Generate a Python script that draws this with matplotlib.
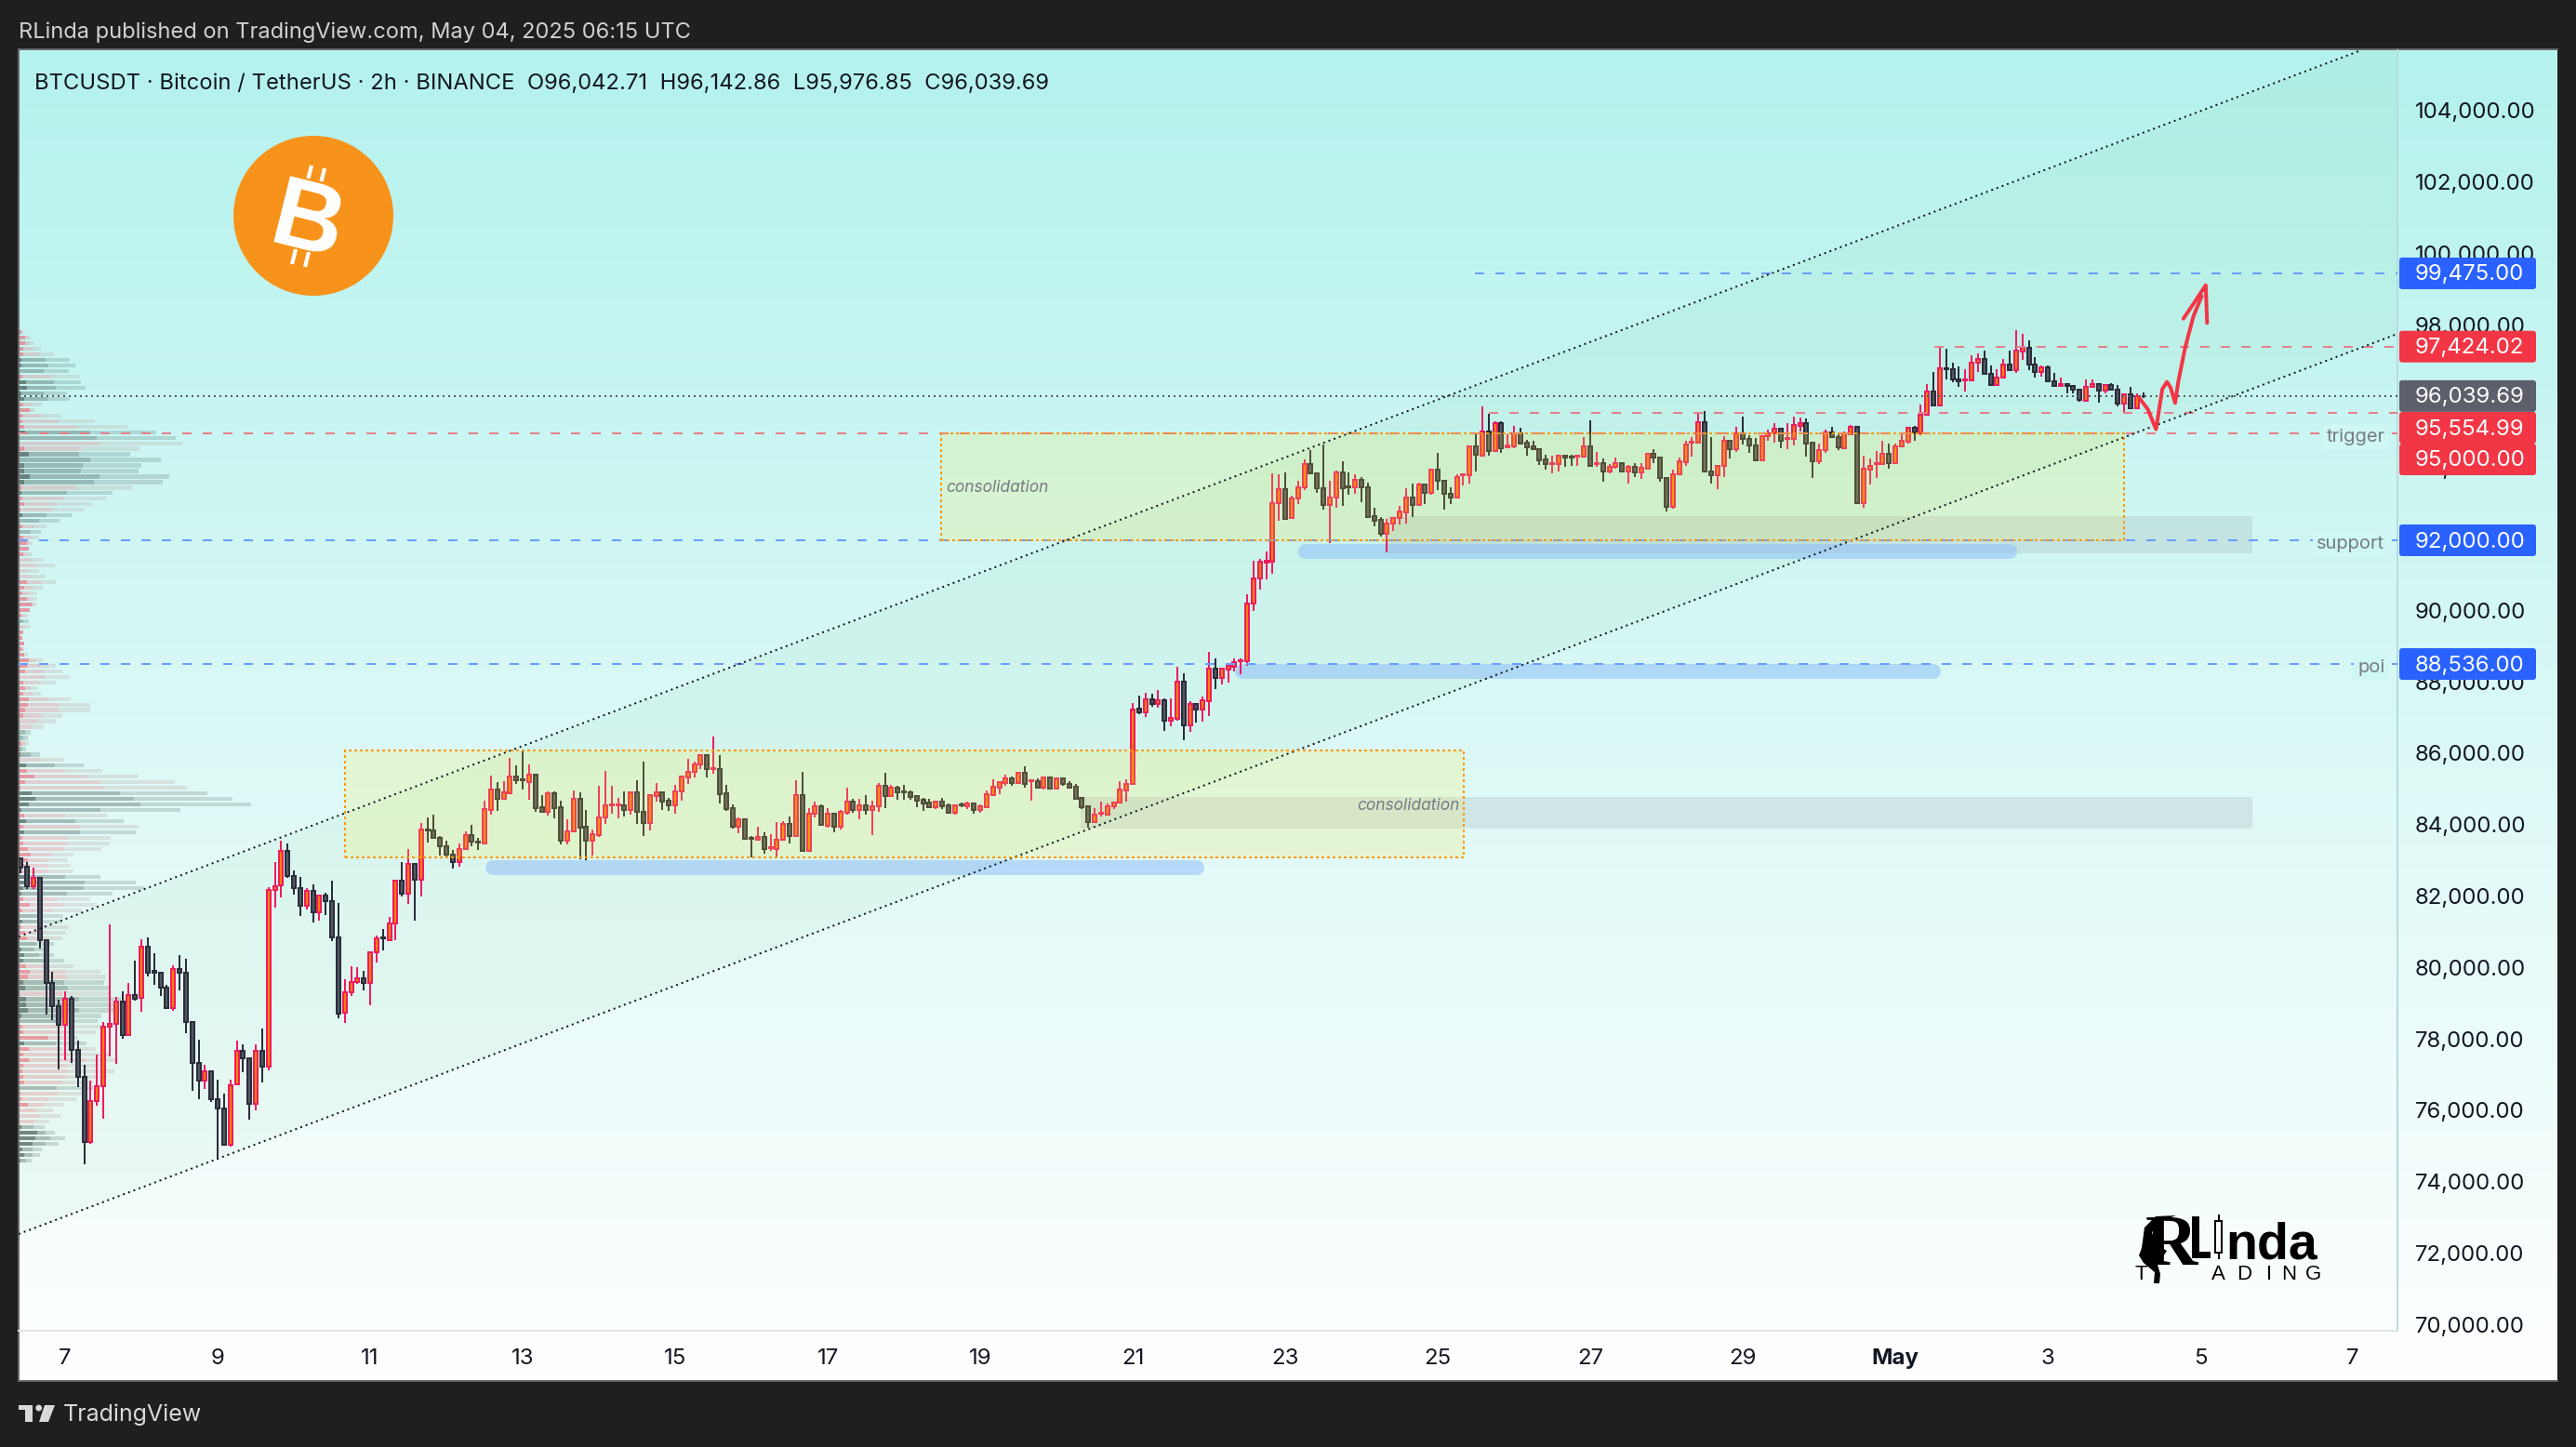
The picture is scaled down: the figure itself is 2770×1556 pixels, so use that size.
import numpy as np
import matplotlib
matplotlib.use('Agg')
import matplotlib.pyplot as plt
from matplotlib.patches import Rectangle, FancyBboxPatch, Circle, Polygon
from matplotlib.transforms import ScaledTranslation

plt.rcParams['font.family'] = ['Inter', 'DejaVu Sans']

PX = 0.72  # one pixel in points at dpi 100

# 2h candles of BTCUSDT
opens = [
    83085,82851,82304,82539,80811,79613,78962,78442,79153,77721,
    76966,75143,76289,76706,78372,78468,79075,78138,79266,79180,
    80612,79935,79883,79483,78902,79987,79900,78502,77357,76862,
    77122,76341,76081,75083,76766,77695,77487,76228,77695,77270,
    82200,82339,83294,82608,82252,81775,82174,81592,82044,81888,
    80872,78763,79336,79640,79726,79613,80455,80872,80811,81263,
    82460,82113,82929,82504,83910,83867,83676,83424,83207,82981,
    83346,83736,83571,83519,84457,85012,84752,84925,85377,85299,
    85238,85429,84517,84405,84908,84517,83597,83840,84752,83971,
    83597,83745,84231,84569,84569,84569,84439,84934,84387,84092,
    84847,84935,84700,84587,84978,85369,85525,85716,85976,85586,
    85586,84909,84492,83989,84179,83659,83615,83685,83372,83363,
    83607,84049,83728,84857,83294,84336,84544,84006,84336,83980,
    84370,84674,84449,84570,84449,84544,85117,84839,85065,84961,
    84935,84831,84726,84648,84535,84674,84570,84362,84596,84553,
    84631,84449,84527,84874,85082,85212,85325,85212,85490,85256,
    85256,85074,85351,85056,85325,85178,85091,84778,84544,84110,
    84336,84318,84561,84648,85004,85169,87279,87183,87539,87417,
    87513,86949,87010,88034,86819,87409,87270,87504,88398,88155,
    88390,88468,88607,88607,90221,90924,91384,91393,93034,93424,
    92617,93164,93476,94127,93867,93450,92999,93190,93893,93502,
    93476,93685,93476,92669,92565,92192,92461,92617,92791,93190,
    92999,93554,93329,93971,93659,93294,93190,93815,93815,94622,
    94379,95039,94501,95273,94605,94622,95004,94726,94631,94544,
    94258,94136,94127,94370,94344,94344,94336,94622,94145,94153,
    93919,94049,94153,93919,94049,93893,94006,94414,94310,93737,
    92930,93841,94197,94726,94726,95299,93936,93815,94075,94778,
    94544,94987,94830,94648,94249,94909,94995,95117,94830,94830,
    95204,95273,94726,94223,94518,95013,94883,94579,94961,95169,
    93034,93988,94127,94127,94414,94153,94622,94770,95143,95004,
    95507,96158,95785,96826,96783,96496,96479,96479,96965,97087,
    96670,96340,96566,96913,96757,97295,97382,96913,96705,96852,
    96453,96314,96384,96323,96227,95915,96305,96384,96184,96340,
    96227,95837,96080,95707,96042.71]
highs = [
    83129,82981,82825,82565,80829,79917,79136,79370,79240,77982,
    77313,76871,77600,78502,81245,79206,79370,79596,80221,80829,
    80872,80438,79891,79544,80099,80377,80282,78528,78008,77313,
    77148,76888,76506,76905,77982,77877,77487,77877,78329,82287,
    82981,83580,83502,82756,82565,82252,82365,82079,82131,82460,
    81844,79700,80065,80048,79943,80455,80933,81115,81454,82460,
    82981,83346,82929,84075,84231,84318,83710,83580,83320,83502,
    83840,84040,83667,84708,85411,85229,85255,85906,85698,86115,
    85724,85429,84865,84969,84969,84708,84188,84995,84943,84448,
    83901,85125,85542,85125,84786,84969,84969,85281,85802,84891,
    85203,84969,84778,85152,85412,85881,85794,85994,86011,86506,
    85985,85152,84596,84240,84179,83719,83971,83824,83771,84110,
    84136,84266,85282,85516,84501,84683,84605,84501,84336,84449,
    85065,84761,84761,84865,84709,85204,85490,85152,85117,85152,
    84995,84839,84787,84761,84683,84787,84631,84605,84657,84683,
    84657,84605,84995,85299,85256,85438,85377,85516,85672,85308,
    85325,85377,85360,85343,85334,85256,85178,84778,84544,84501,
    84683,84631,84683,85256,85308,87444,87652,87730,87704,87808,
    87574,87574,88459,88277,87496,87444,87626,88876,88693,88424,
    88485,88693,88693,90490,91428,91480,91688,93875,93841,93902,
    93242,93659,94266,94527,93893,94683,93659,93945,94206,93902,
    93841,93771,93607,92912,92652,92591,92652,92956,93450,93580,
    93607,93580,93997,94440,93659,93476,93841,93867,94657,94995,
    95742,95534,95325,95334,94961,95195,95143,94804,94787,94544,
    94405,94370,94396,94370,94388,94370,94891,95360,94475,94284,
    94136,94318,94197,94110,94153,94153,94431,94544,94318,93763,
    93971,94318,94787,94891,95542,95620,94891,94110,94909,94804,
    95169,95455,94935,94857,94935,95100,95273,95152,95273,95464,
    95429,95403,94726,94700,95100,95178,94995,95039,95221,95195,
    94370,94292,94501,94787,94700,94718,95021,95169,95204,95802,
    96366,96713,97425,97364,96974,96861,96800,97182,97234,97304,
    96887,96791,97078,97304,97877,97781,97599,97130,96887,96887,
    96687,96566,96384,96349,96245,96505,96505,96401,96366,96410,
    96349,96123,96305,96106,96142.86]
lows = [
    82669,82235,82235,80568,78728,78572,77183,77443,77374,76680,
    74536,75100,76167,75812,77548,77339,78051,78120,79110,78806,
    79787,79544,79240,78876,78832,79396,78207,76593,76350,76645,
    76272,74649,75057,75031,76749,77114,75777,76037,76827,77166,
    81714,82000,82547,82079,81480,81662,81297,81349,81506,80785,
    78615,78485,79249,79579,79396,78988,80178,80525,80811,80811,
    82026,81827,81349,82026,83537,83650,83172,83155,82808,82860,
    83346,83433,83328,83484,84318,84422,84734,84891,85177,85021,
    84734,84405,84405,84292,84214,83484,83484,83823,83068,83042,
    83172,83693,84057,84344,84214,84266,84318,84057,83719,83875,
    84682,84449,84431,84344,84718,85186,85360,85603,85369,85473,
    84640,84423,83936,83806,83624,83120,83589,83225,83294,83147,
    83589,83511,83728,83277,83285,84240,84006,83954,83824,83902,
    84318,84370,84188,84318,83746,84396,84501,84839,84735,84735,
    84735,84527,84423,84518,84475,84475,84344,84318,84527,84475,
    84344,84370,84501,84865,84891,85126,85126,85204,85082,84709,
    85039,85021,85047,85047,85126,85065,84735,84475,83954,84101,
    84266,84301,84475,84631,84683,85150,87131,87053,87339,87313,
    86662,86793,86949,86402,86636,86897,86923,87079,87834,87964,
    88016,88329,88251,88485,90022,90620,90907,91063,92548,92582,
    92600,93016,93407,93850,93329,92860,91923,92912,92964,93268,
    93303,93068,92652,92391,92105,91662,92252,92443,92461,92652,
    92999,93008,93268,93398,92860,93016,93173,93537,93581,93928,
    94379,94370,94501,94440,94587,94587,94683,94370,94527,94110,
    93980,93876,93936,94049,94084,94084,94327,94049,94058,93641,
    93876,94006,93902,93589,93771,93719,93980,94153,93641,92808,
    92886,93824,94084,94336,94700,93928,93589,93433,93771,94292,
    94475,94674,94457,94206,94232,94787,94735,94579,94544,94666,
    95056,94344,93754,94145,94457,94857,94518,94570,94935,93016,
    92912,93563,93745,94110,94006,94145,94605,94718,94787,94934,
    95507,95759,95776,96496,96436,96305,96167,96470,96714,96644,
    96323,96331,96557,96739,96696,97061,96757,96566,96583,96436,
    96297,96305,96123,96123,95880,95898,96297,95863,96106,96210,
    95759,95559,95672,95698,95976.85]
closes = [
    82842,82304,82539,80811,79613,78962,78442,79153,77721,76966,
    75143,76289,76706,78372,78468,79075,78138,79266,79162,80612,
    79900,79900,79483,78902,79987,79900,78502,77357,76862,77122,
    76341,76081,75083,76749,77695,77487,76228,77695,77270,82200,
    82322,83294,82608,82252,81775,82174,81592,82044,81888,80872,
    78745,79336,79640,79726,79613,80455,80846,80846,81263,82460,
    82113,82929,82504,83910,83867,83676,83424,83207,82981,83346,
    83736,83554,83545,84474,85012,84752,84934,85377,85273,85273,
    85429,84509,84405,84908,84509,83597,83840,84752,83962,83597,
    83762,84231,84569,84596,84596,84439,84934,84387,84092,84856,
    84934,84692,84587,84978,85377,85525,85716,85976,85586,85612,
    84900,84475,83989,84179,83633,83633,83685,83363,83398,83607,
    84049,83728,84857,83294,84336,84544,84023,84336,83980,84388,
    84674,84449,84570,84449,84553,85117,84839,85065,84935,84935,
    84813,84709,84631,84535,84674,84553,84370,84570,84579,84631,
    84449,84553,84883,85091,85230,85325,85212,85490,85186,85282,
    85082,85360,85056,85325,85169,85082,84761,84518,84110,84310,
    84362,84561,84657,85013,85169,87270,87183,87539,87417,87513,
    86949,87018,88034,86819,87409,87270,87513,88398,88155,88398,
    88476,88581,88641,90221,90924,91393,91419,93033,93424,92600,
    93164,93476,94127,93867,93450,92999,93190,93893,93468,93476,
    93685,93476,92660,92548,92183,92461,92617,92799,93190,92999,
    93554,93329,93971,93659,93294,93190,93763,93841,94622,94388,
    95039,94501,95273,94587,94648,95004,94709,94613,94544,94249,
    94127,94162,94370,94318,94318,94370,94622,94093,94171,93919,
    94049,94153,93919,94049,93893,94023,94414,94310,93737,92930,
    93841,94206,94674,94761,95299,93936,93815,94075,94778,94544,
    94987,94830,94648,94249,94909,94995,95117,94787,94857,95221,
    95273,94718,94223,94518,95013,94883,94596,94987,95169,93034,
    93997,94075,94153,94414,94153,94622,94778,95143,95013,95507,
    96158,95785,96826,96783,96496,96444,96505,96965,97087,96670,
    96340,96566,96913,96757,97304,97382,96913,96705,96852,96453,
    96314,96384,96323,96227,95924,96305,96384,96184,96340,96227,
    95837,96080,95698,96028,96039.69]

# volume profile rows, top row first: p = pink row, g = grey row
vp_kind = ("pppppgggpg" "gggpppppgg" "ppggggggpg" "pppggpgppp" "pppppppppp"
           "ppgppppppp" "pppppppppp" "ppggpggpgp" "pppggggpg"
           "pgpppppppg" "gggpppggpp" "pggggpppgg" "pgggggpppg" "pppppppgpp" "ppppggggggg")
vp_strong = [
    9,21,21,15,15,9,9,2,12,24,27,9,18,15,36,12,12,18,21,2,2,18,33,2,18,18,36,18,9,9,
    12,18,6,12,2,12,2,15,27,33,15,2,2,2,2,27,18,12,27,42,36,9,2,2,15,12,18,12,18,33,
    27,21,2,15,21,15,33,30,21,15,2,2,2,2,9,2,6,2,24,27,51,21,6,42,54,33,9,18,24,
    15,18,12,15,30,39,30,18,12,18,18,15,9,15,36,12,2,12,9,21,27,2,9,18,15,24,36,30,15,21,
    2,24,24,30,9,2,11,15,96,18,33,15,33,15,12,15,18,2,5,8,30,2,2,2,9,60,54,45,12,18,6]
vp_mid = [
    9,30,36,45,66,87,96,81,105,114,120,81,93,45,45,75,129,186,231,252,264,204,195,231,207,201,261,243,189,156,
    147,126,108,90,66,51,39,42,36,33,30,42,60,33,45,75,48,36,42,51,36,21,15,21,15,12,18,12,18,54,
    72,81,84,69,39,45,99,132,126,78,63,42,21,15,21,12,39,72,117,150,219,264,276,327,372,393,264,150,183,
    201,198,156,156,147,108,93,93,93,150,213,210,156,123,144,108,75,75,80,87,87,57,51,66,81,90,150,156,147,160,
    140,195,181,195,150,120,140,170,150,120,141,165,216,153,159,153,141,123,126,99,87,57,66,51,48,87,102,87,45,45,24]
vp_total = [
    15,39,51,72,114,165,183,162,198,201,216,156,165,75,54,138,246,351,444,507,528,390,360,459,396,387,486,465,369,303,
    282,237,210,171,132,90,72,66,45,33,45,78,117,66,87,120,78,57,60,57,36,30,33,39,15,12,18,18,30,78,
    120,141,165,120,60,72,168,231,231,141,120,81,39,30,33,24,69,147,210,270,387,504,543,609,690,750,522,285,339,
    387,378,297,294,267,177,156,168,177,264,378,405,303,231,252,204,144,141,162,153,141,114,87,114,147,177,264,282,276,291,
    291,330,340,328,267,255,268,249,192,219,249,290,312,260,309,260,240,240,220,189,144,111,135,99,84,117,150,129,75,69,42]
vp_top_price = 97833
vp_bin = 155.7
assert len(vp_kind) == len(vp_strong) == len(vp_mid) == len(vp_total) == 150

# price levels and their axis tags
blue_levels = [99475, 92000, 88536]
red_levels = [97424.02, 95554.99, 95000]
last_price = 96039.69
level_start_day = {99475: 25.49, 97424.02: 31.51, 95554.99: 25.67}

tag_text = ['99,475.00', '97,424.02', '96,039.69', '95,554.99', '95,000.00', '92,000.00', '88,536.00']
tag_price = [99475, 97424.02, 96039.69, 95151, 94266, 92000, 88536]
tag_color = ['#2962ff', '#f23645', '#5d606b', '#f23645', '#f23645', '#2962ff', '#2962ff']

level_names = ['trigger', 'support', 'poi']
level_name_price = [95000, 92000, 88536]

# channel lines (day, price)
upper_channel = ([6.39, 37.11], [80900, 105724])
lower_channel = ([6.39, 37.585], [72573, 97781])

# zones: day from, day to, price low, price high
yellow_zones = [(10.67, 25.34, 83128, 86122), (18.49, 34.0, 92000, 95000)]
gray_zones = [(20.32, 35.68, 83935, 84812), (24.33, 35.68, 91635, 92677)]
blue_bars = [(12.61, 21.84, 82834), (23.27, 32.5, 91688), (22.44, 31.5, 88332)]

# hand drawn forecast arrow
arrow_day = [34.203, 34.311, 34.419, 34.460, 34.502, 34.562, 34.610, 34.670, 34.712, 34.802, 34.910, 35.018]
arrow_price = [95976, 95672, 95108, 95672, 96236, 96436, 96279, 95845, 96453, 97408, 98276, 98840]
head_day = [34.778, 34.910, 35.071, 35.089]
head_price = [98206, 98623, 99144, 98085]

y_ticks = list(range(70000, 106000, 2000))
x_ticks = [7, 9, 11, 13, 15, 17, 19, 21, 23, 25, 27, 29, 31, 33, 35, 37]
x_labels = ['7', '9', '11', '13', '15', '17', '19', '21', '23', '25', '27', '29', 'May', '3', '5', '7']

fig = plt.figure(figsize=(27.7, 15.56), dpi=100, facecolor='#1f1f1f')


def box(x0, y0, x1, y1):
    return [x0 / 2770, 1 - y1 / 1556, (x1 - x0) / 2770, (y1 - y0) / 1556]


# panel background
bg = fig.add_axes(box(20, 54, 2750, 1485), zorder=0)
grad = np.linspace(0, 1, 256)[:, None, None] * np.array([75, 13, 18]) / 255 + np.array([180, 242, 237]) / 255
grad = np.clip(grad, 0, 1)
bg.imshow(grad, aspect='auto', extent=(0, 1, 0, 1), origin='upper')
bg.axis('off')
fig.add_artist(plt.Line2D([20 / 2770, 20 / 2770], [1 - 54 / 1556, 1 - 1485 / 1556], color='#666666', lw=1.4))
fig.add_artist(plt.Line2D([20 / 2770, 2750 / 2770], [1 - 53 / 1556, 1 - 53 / 1556], color='#666666', lw=1.4))
fig.add_artist(plt.Line2D([20 / 2770, 2750 / 2770], [1 - 1485 / 1556, 1 - 1485 / 1556], color='#666666', lw=1.4))

ax = fig.add_axes(box(20, 54, 2578, 1431), zorder=2)
ax.patch.set_visible(False)
ax.set_xlim(6.39, 37.585)
ax.set_ylim(69865, 105724)

# volume profile on its own scale
vp = fig.add_axes(box(20, 54, 2578, 1431), zorder=1)
vp.patch.set_visible(False)
vp.set_xlim(0, 7674)
vp.set_ylim(69865, 105724)
vp.axis('off')
vp_y = vp_top_price - vp_bin * np.arange(len(vp_total))
vp_h = vp_bin * 0.7
for k, y, a, b, c in zip(vp_kind, vp_y, vp_strong, vp_mid, vp_total):
    if k == 'g':
        cols = [((0.22, 0.29, 0.28), 0.66), ((0.22, 0.29, 0.28), 0.35), ((0.22, 0.29, 0.28), 0.18)]
    else:
        cols = [((0.95, 0.24, 0.32), 0.5), ((0.92, 0.45, 0.50), 0.3), ((0.75, 0.62, 0.62), 0.25)]
    vp.barh(y, a, height=vp_h, color=cols[0][0], alpha=cols[0][1], linewidth=0)
    vp.barh(y, b - a, left=a, height=vp_h, color=cols[1][0], alpha=cols[1][1], linewidth=0)
    vp.barh(y, c - b, left=b, height=vp_h, color=cols[2][0], alpha=cols[2][1], linewidth=0)

# candles
x = 34.25 - (len(opens) - 1 - np.arange(len(opens))) / 12
o, h, l, c = map(np.array, (opens, highs, lows, closes))
up = c >= o
wick_col = np.where(up, '#ec1c60', '#2a2e39')
ax.vlines(x, l, h, colors=list(wick_col), lw=2 * PX, zorder=3)
body_w = 4 / 82
ax.bar(x[up], (c - o)[up], bottom=o[up], width=body_w, color='#ff8000', edgecolor='#ec1c60',
       linewidth=2 * PX, zorder=4)
ax.bar(x[~up], (o - c)[~up], bottom=c[~up], width=body_w, color='#555966', edgecolor='#2a2e39',
       linewidth=2 * PX, zorder=4)

# channel
ax.fill_between(upper_channel[0], np.interp(upper_channel[0], *lower_channel), upper_channel[1],
                color='#4caf50', alpha=0.05, linewidth=0, zorder=1)
ax.fill_between([37.11, 37.585], np.interp([37.11, 37.585], *lower_channel), [105724, 105724],
                color='#4caf50', alpha=0.05, linewidth=0, zorder=1)
for line in (upper_channel, lower_channel):
    ax.plot(line[0], line[1], color='#131722', lw=2 * PX, ls=(0, (1, 2)), zorder=6)

# zones
for d0, d1, p0, p1 in gray_zones:
    ax.add_patch(Rectangle((d0, p0), d1 - d0, p1 - p0, facecolor='#787b86', alpha=0.15, linewidth=0, zorder=2))
for d0, d1, p0, p1 in yellow_zones:
    ax.add_patch(Rectangle((d0, p0), d1 - d0, p1 - p0, facecolor='#ffeb3b', alpha=0.18, linewidth=0, zorder=5))
    ax.add_patch(Rectangle((d0, p0), d1 - d0, p1 - p0, fill=False, edgecolor='#ff9800', linewidth=2 * PX,
                           ls=(0, (1.5, 1.5)), zorder=6))
for d0, d1, p in blue_bars:
    ax.plot([d0, d1], [p, p], color='#90bff9', alpha=0.55, lw=16 * PX, solid_capstyle='round', zorder=2)

ax.text(18.55, 93470, 'consolidation', color='#787b86', style='italic', fontsize=12.5, va='center', zorder=7)
ax.text(23.94, 84578, 'consolidation', color='#787b86', style='italic', fontsize=12.5, va='center', zorder=7)

# levels
for p in blue_levels:
    ax.plot([level_start_day.get(p, 6.39), 37.585], [p, p], color='#6a9cff', lw=2 * PX, ls=(0, (5, 6)), zorder=5)
for p in red_levels:
    ax.plot([level_start_day.get(p, 6.39), 37.585], [p, p], color='#e4808a', lw=2 * PX, ls=(0, (5, 6)), zorder=5)
ax.plot([6.39, 37.585], [last_price, last_price], color='#555a62', lw=2 * PX, ls=(0, (1, 2)), zorder=5)

ax.plot(arrow_day, arrow_price, color='#f23645', lw=4 * PX, solid_joinstyle='round', solid_capstyle='round', zorder=8)
ax.plot(head_day, head_price, color='#f23645', lw=4 * PX, solid_joinstyle='round', solid_capstyle='round', zorder=8)

for name, p in zip(level_names, level_name_price):
    ax.text(37.42, p - 110, name, color='#787b86', fontsize=14.5, ha='right', va='center', zorder=7,
            bbox=dict(facecolor='#cff7f3', edgecolor='none', pad=3))

# axes
for s in ('top', 'left'):
    ax.spines[s].set_visible(False)
ax.spines['right'].set_color('#b6dcdc')
ax.spines['right'].set_linewidth(2 * PX)
ax.spines['bottom'].set_color('#dfe3e6')
ax.spines['bottom'].set_linewidth(2 * PX)
ax.yaxis.tick_right()
ax.set_yticks(y_ticks)
ax.set_yticklabels([f'{v:,.2f}' for v in y_ticks])
ax.tick_params(axis='y', length=0, pad=13.7, labelsize=17.3, labelcolor='#131722')
nudge = ScaledTranslation(0, 1.5 / 100, fig.dpi_scale_trans)
for lab in ax.get_yticklabels():
    lab.set_transform(lab.get_transform() + nudge)
ax.set_xticks(x_ticks)
ax.set_xticklabels(x_labels)
ax.tick_params(axis='x', length=0, pad=14, labelsize=17.3, labelcolor='#131722')
ax.get_xticklabels()[12].set_fontweight('bold')

# overlay in pixel coordinates: tags, header, footer, logos
over = fig.add_axes([0, 0, 1, 1], zorder=5)
over.patch.set_visible(False)
over.set_xlim(0, 2770)
over.set_ylim(1556, 0)
over.axis('off')


def price_to_px(p):
    return 54 + (105724 - p) / (105724 - 69865) * (1431 - 54)


for t, p, col in zip(tag_text, tag_price, tag_color):
    yc = price_to_px(p)
    over.add_patch(FancyBboxPatch((2580, yc - 17), 147, 34, boxstyle='round,pad=0,rounding_size=3',
                                  facecolor=col, edgecolor='none'))
    over.text(2597, yc - 1, t, color='white', fontsize=17.3, va='center_baseline')

over.text(20, 35, 'RLinda published on TradingView.com, May 04, 2025 06:15 UTC', color='#d1d1d1',
          fontsize=17, va='center')
over.text(37, 90, 'BTCUSDT · Bitcoin / TetherUS · 2h · BINANCE  O96,042.71  H96,142.86  L95,976.85  C96,039.69',
          color='#131722', fontsize=17.15, va='center')

# bitcoin badge
over.add_patch(Circle((337, 232), 86, facecolor='#f7931a', edgecolor='none'))
over.text(333, 232, 'B', color='white', fontsize=76, fontweight='bold', family='Liberation Sans',
          ha='center', va='center_baseline', rotation=-14, rotation_mode='anchor')
for dx, y0, y1 in ((-6, 178, 192), (8, 181, 195), (-23, 268, 284), (-9, 271, 287)):
    over.plot([341 + dx, 341 + dx - (y1 - y0) * 0.25], [y0, y1], color='white', lw=4.2 * PX, solid_capstyle='butt')

# tradingview footer
over.add_patch(Polygon([(20, 1511), (35, 1511), (35, 1529), (27, 1529), (27, 1516), (20, 1516)], facecolor='#d9d9d9'))
over.add_patch(Circle((41.7, 1514), 3.4, facecolor='#d9d9d9', edgecolor='none'))
over.add_patch(Polygon([(48, 1511), (59, 1511), (52, 1529), (42, 1529)], facecolor='#d9d9d9'))
over.text(68, 1521, 'TradingView', color='#d9d9d9', fontsize=18, va='center')

# rlinda logo
over.add_patch(Polygon([(2303, 1342), (2306, 1320), (2318, 1308), (2340, 1307), (2326, 1312), (2314, 1325),
                        (2318, 1338), (2330, 1345), (2320, 1360), (2323, 1370), (2322, 1380), (2316, 1380),
                        (2317, 1368), (2305, 1358), (2300, 1350)], facecolor='black'))
over.text(2335, 1342, 'R', color='black', fontsize=56, family='Liberation Serif', fontweight='bold',
          ha='center', va='center')
over.add_patch(Polygon([(2357, 1308), (2365, 1308), (2365, 1346), (2377, 1346), (2377, 1353), (2357, 1353)],
                       facecolor='black'))
over.plot([2385.5, 2385.5], [1307, 1353], color='black', lw=2 * PX)
over.add_patch(Rectangle((2382, 1313), 7, 34, facecolor='white', edgecolor='black', linewidth=2 * PX, zorder=3))
over.text(2393, 1353, 'nda', color='black', fontsize=40, fontweight='bold', family='Liberation Sans', va='baseline')
for ch, xp in (('T', 2302), ('A', 2385), ('D', 2413), ('I', 2440), ('N', 2461), ('G', 2487)):
    over.text(xp, 1371, ch, color='black', fontsize=16, family='Liberation Sans', ha='center', va='center')

fig.savefig('out.png', dpi=100, facecolor=fig.get_facecolor())
